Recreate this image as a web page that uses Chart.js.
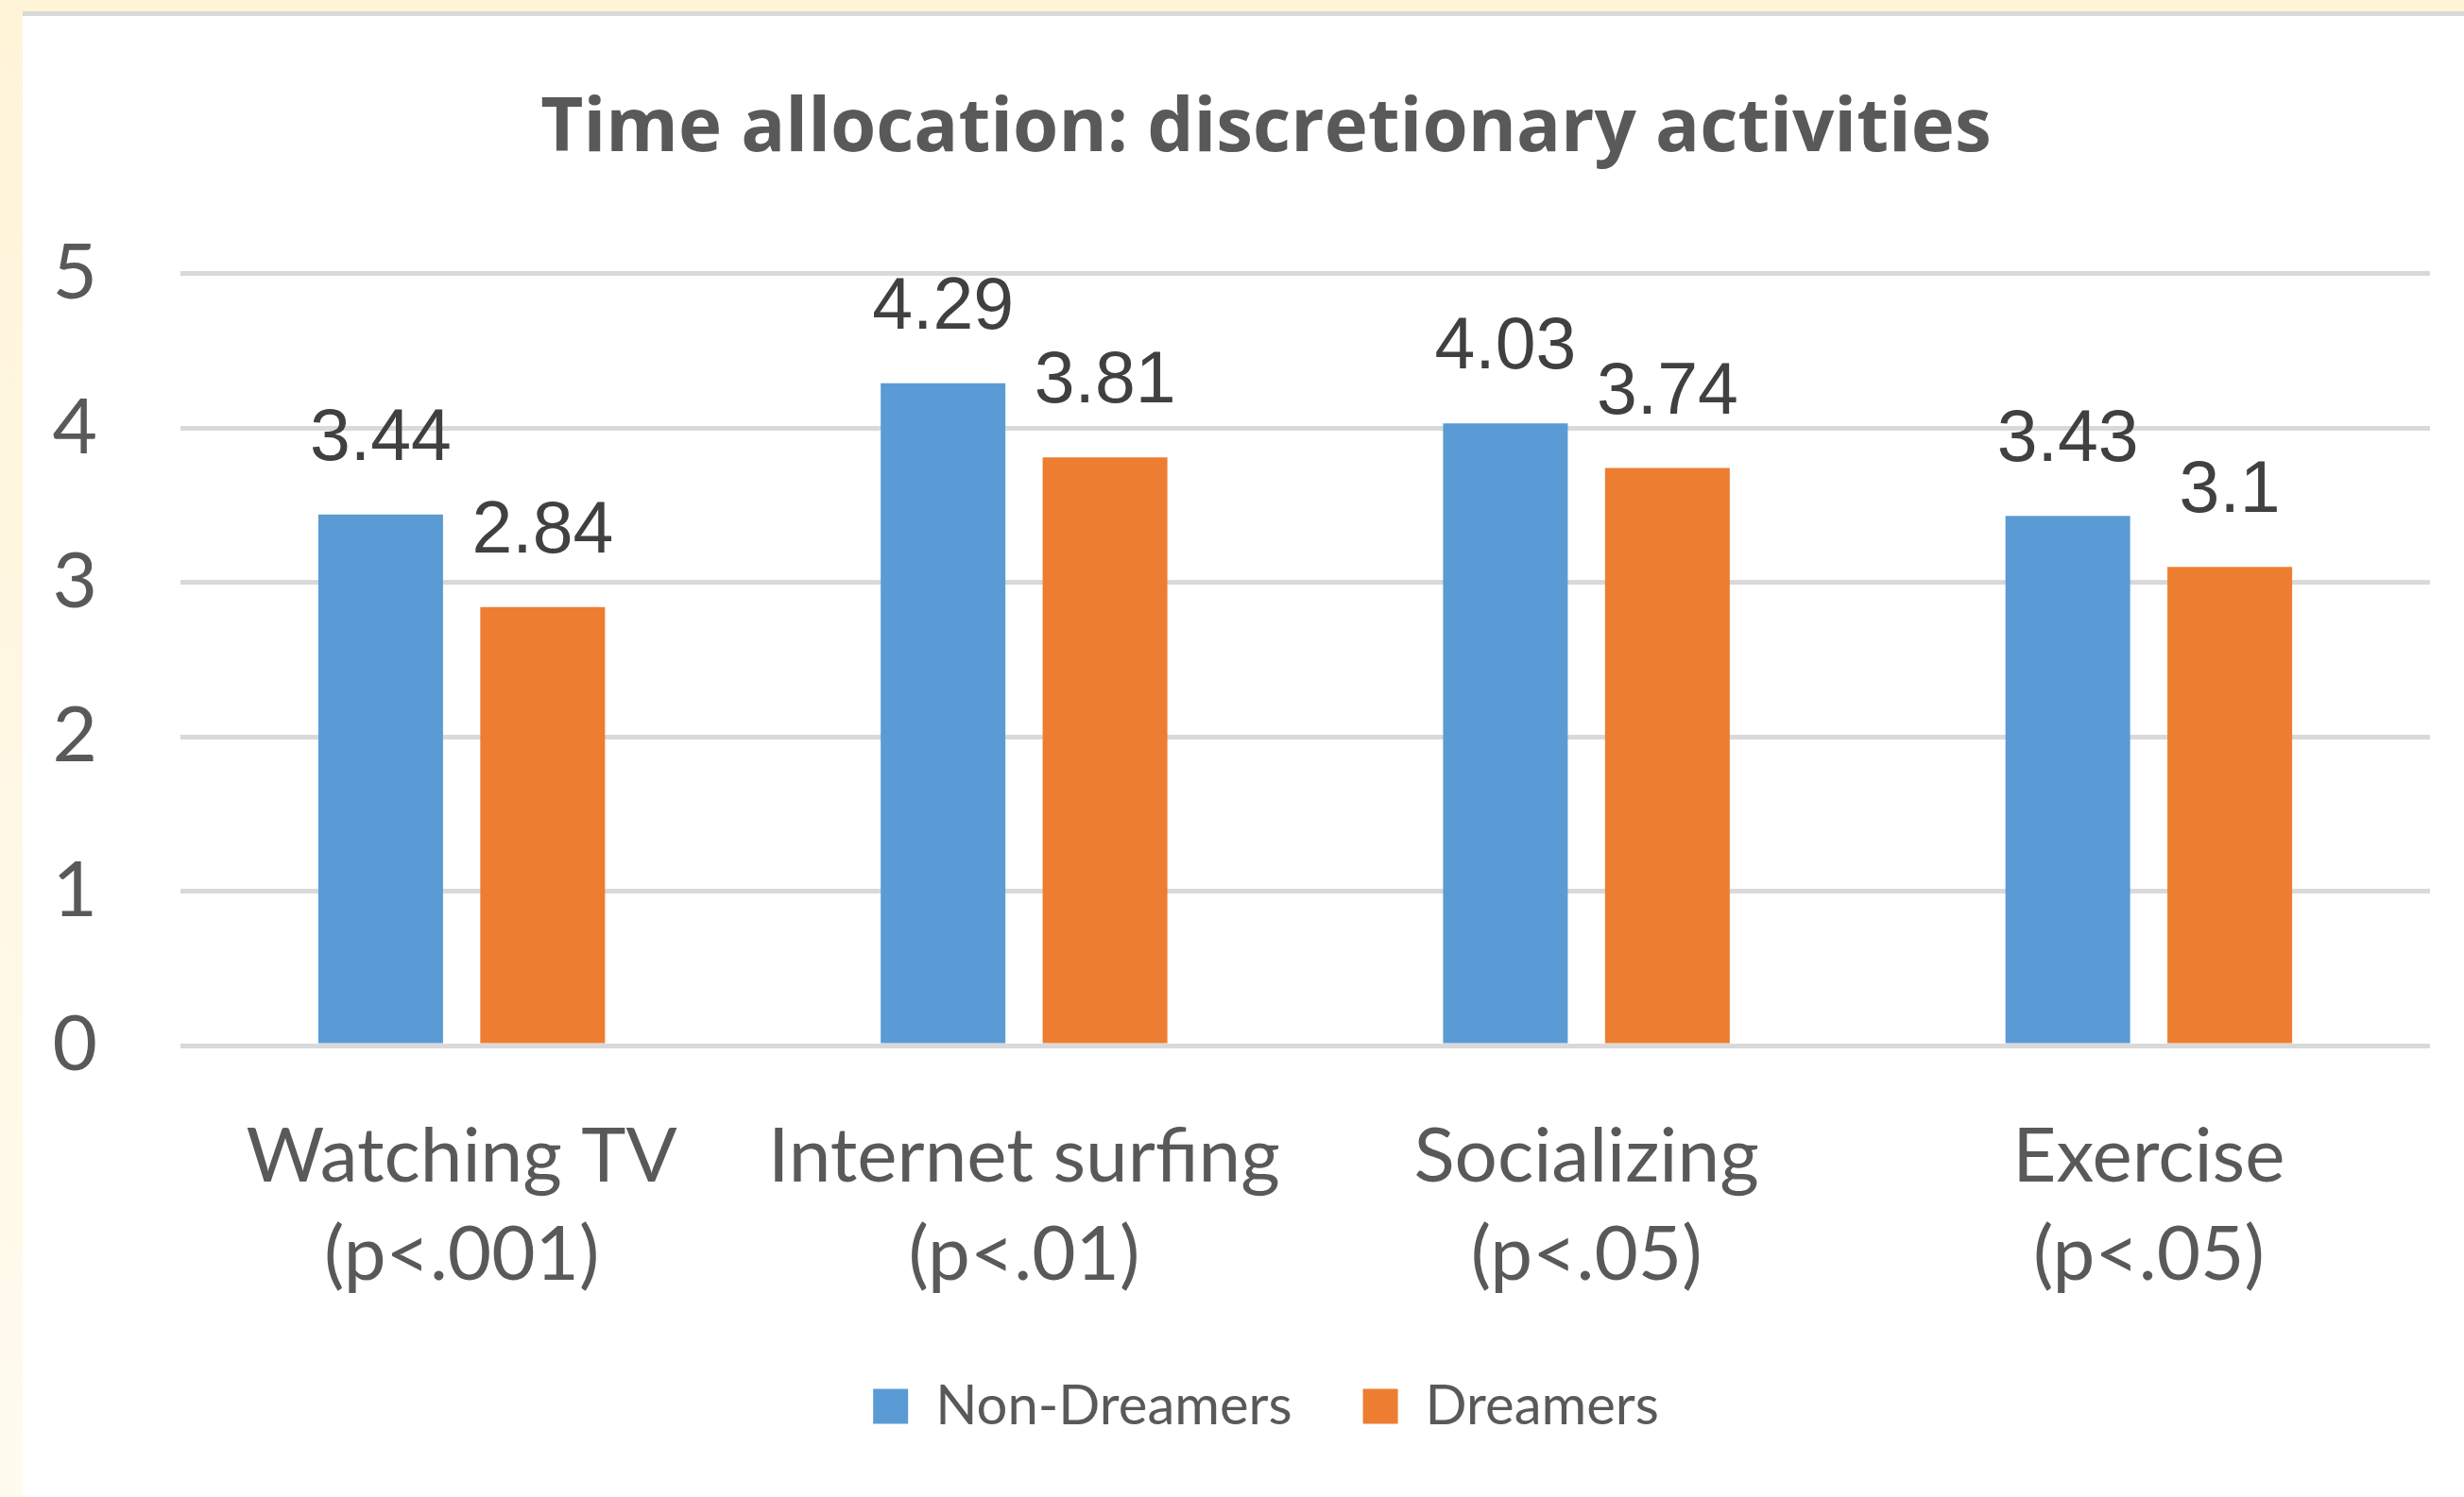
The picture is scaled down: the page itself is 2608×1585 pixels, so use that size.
<!DOCTYPE html>
<html><head><meta charset="utf-8">
<script src="https://cdn.jsdelivr.net/npm/chart.js@4.4.1/dist/chart.umd.min.js"></script>
<style>
html,body{margin:0;padding:0;width:2608px;height:1585px;overflow:hidden;}
body{background:linear-gradient(to bottom,#FFF4D8,#FFFBEE);position:relative;}
#panel{position:absolute;left:24px;top:12px;right:0;bottom:0;background:#fff;border-top:5px solid #D9D9D9;}
#c{position:absolute;left:0;top:0;width:2640px;height:1585px;}
</style></head><body>
<div id="panel"></div>
<canvas id="c" width="2640" height="1585"></canvas>
<script>
const titleText = 'Time allocation: discretionary activities';
const categories = [['Watching TV','(p<.001)'],['Internet surfing','(p<.01)'],['Socializing','(p<.05)'],['Exercise','(p<.05)']];
const seriesNames = ['Non-Dreamers','Dreamers'];
const nonDreamers = [3.44,4.29,4.03,3.43];
const dreamers = [2.84,3.81,3.74,3.1];
const yMin = 0, yMax = 5, yStep = 1;
const seriesColors = ['#5B9BD5','#ED7D31'];

const valueLabels = {
  id:'valueLabels',
  afterDatasetsDraw(chart){
    const ctx = chart.ctx;
    ctx.save();
    ctx.font = '77px "Liberation Sans"';
    ctx.fillStyle = '#404040';
    ctx.textAlign = 'center';
    ctx.textBaseline = 'alphabetic';
    chart.data.datasets.forEach((ds,di)=>{
      const meta = chart.getDatasetMeta(di);
      meta.data.forEach((el,i)=>{
        ctx.fillText(String(ds.data[i]), el.x, el.y - 58);
      });
    });
    ctx.restore();
  }
};

new Chart(document.getElementById('c'),{
  type:'bar',
  data:{
    labels:categories,
    datasets:[
      {label:seriesNames[0],data:nonDreamers,backgroundColor:seriesColors[0],categoryPercentage:0.576,barPercentage:0.77},
      {label:seriesNames[1],data:dreamers,backgroundColor:seriesColors[1],categoryPercentage:0.576,barPercentage:0.77}
    ]
  },
  options:{
    responsive:false,
    animation:false,
    devicePixelRatio:1,
    layout:{padding:{left:40,right:0,top:0,bottom:57}},
    plugins:{
      title:{display:true,text:titleText,color:'#595959',font:{family:'Open Sans',size:78,weight:'bold',lineHeight:1.2},padding:{top:91,bottom:105}},
      legend:{position:'bottom',labels:{boxWidth:37,boxHeight:37,color:'#595959',font:{family:'Lato',size:58},padding:75}},
      tooltip:{enabled:false}
    },
    scales:{
      x:{
        grid:{display:false,drawTicks:false},
        border:{display:false},
        ticks:{color:'#595959',font:{family:'Lato',size:80,lineHeight:1.3},padding:66,maxRotation:0,autoSkip:false},
        afterFit(s){s.height=278;}
      },
      y:{
        min:yMin,max:yMax,
        grid:{color:'#D9D9D9',lineWidth:5,drawTicks:false},
        border:{display:false},
        ticks:{stepSize:yStep,color:'#595959',font:{family:'Lato',size:82},padding:88},
        afterFit(s){s.width=151;}
      },
      yRight:{
        position:'right',
        grid:{display:false,drawTicks:false},
        border:{display:false},
        ticks:{display:false},
        afterFit(s){s.width=68;}
      }
    }
  },
  plugins:[valueLabels]
});
</script>
</body></html>
